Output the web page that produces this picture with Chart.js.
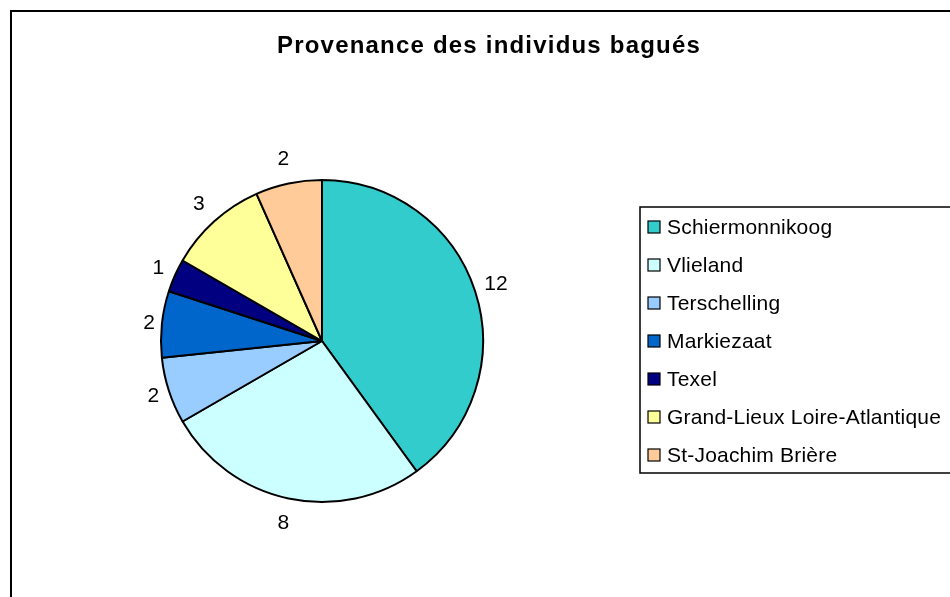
<!DOCTYPE html>
<html>
<head>
<meta charset="utf-8">
<script src="https://cdn.jsdelivr.net/npm/chart.js@4"></script>
<style>
    body { margin: 0; background: #fff; }
    canvas { display: block; }
</style>
</head>
<body>
<canvas id="pieChart" width="950" height="597"></canvas>
<script>
// Data
const titleText = 'Provenance des individus bagués';
const labels = ['Schiermonnikoog', 'Vlieland', 'Terschelling', 'Markiezaat', 'Texel', 'Grand-Lieux Loire-Atlantique', 'St-Joachim Brière'];
const counts = [12, 8, 2, 2, 1, 3, 2];
const colors = ['#33CCCC', '#CCFFFF', '#99CCFF', '#0066CC', '#000080', '#FFFF99', '#FFCC99'];

const FONT = '"Liberation Sans", Arial, sans-serif';

// Frame, title, value labels and boxed legend
const decorPlugin = {
    id: 'decor',
    afterDraw(chart) {
        const ctx = chart.ctx;
        ctx.save();

        // outer frame
        ctx.strokeStyle = '#000';
        ctx.lineWidth = 2;
        ctx.strokeRect(11, 11, 1000, 1000);

        // title
        ctx.fillStyle = '#000';
        ctx.font = 'bold 24px ' + FONT;
        ctx.letterSpacing = '1.2px';
        ctx.textAlign = 'center';
        ctx.textBaseline = 'middle';
        ctx.fillText(titleText, 489, 46);
        ctx.letterSpacing = '0px';

        // value labels outside slices (text box pushed out along mid angle)
        ctx.font = '21px ' + FONT;
        const meta = chart.getDatasetMeta(0);
        meta.data.forEach((arc, i) => {
            const p = arc.getProps(['x', 'y', 'startAngle', 'endAngle', 'outerRadius'], true);
            const mid = (p.startAngle + p.endAngle) / 2;
            const txt = String(counts[i]);
            const w = ctx.measureText(txt).width;
            const c = Math.cos(mid), s = Math.sin(mid);
            const r = p.outerRadius + 5 + Math.abs(c) * w / 2 + Math.abs(s) * 19;
            ctx.fillText(txt, p.x + c * r, p.y + s * r);
        });

        // legend
        const lx = 640, ly = 207, lh = 266;
        ctx.fillStyle = '#fff';
        ctx.fillRect(lx, ly, 400, lh);
        ctx.lineWidth = 1.5;
        ctx.strokeStyle = '#000';
        ctx.strokeRect(lx, ly, 400, lh);
        ctx.textAlign = 'left';
        ctx.font = '21px ' + FONT;
        ctx.letterSpacing = '0.2px';
        labels.forEach((lab, i) => {
            const cy = 227 + i * 38;
            ctx.fillStyle = colors[i];
            ctx.fillRect(648, cy - 6, 12, 12);
            ctx.lineWidth = 1.2;
            ctx.strokeRect(648, cy - 6, 12, 12);
            ctx.fillStyle = '#000';
            ctx.fillText(lab, 667, cy + 1);
        });
        ctx.letterSpacing = '0px';

        ctx.restore();
    }
};

const ctx = document.getElementById('pieChart').getContext('2d');
const pieChart = new Chart(ctx, {
    type: 'pie',
    data: {
        labels: labels,
        datasets: [{
            data: counts,
            backgroundColor: colors,
            borderColor: '#000',
            borderWidth: 2
        }]
    },
    options: {
        responsive: false,
        animation: false,
        layout: {
            padding: { left: 160, right: 466, top: 179, bottom: 94 }
        },
        plugins: {
            legend: { display: false },
            title: { display: false },
            tooltip: { enabled: false }
        }
    },
    plugins: [decorPlugin]
});
</script>
</body>
</html>
